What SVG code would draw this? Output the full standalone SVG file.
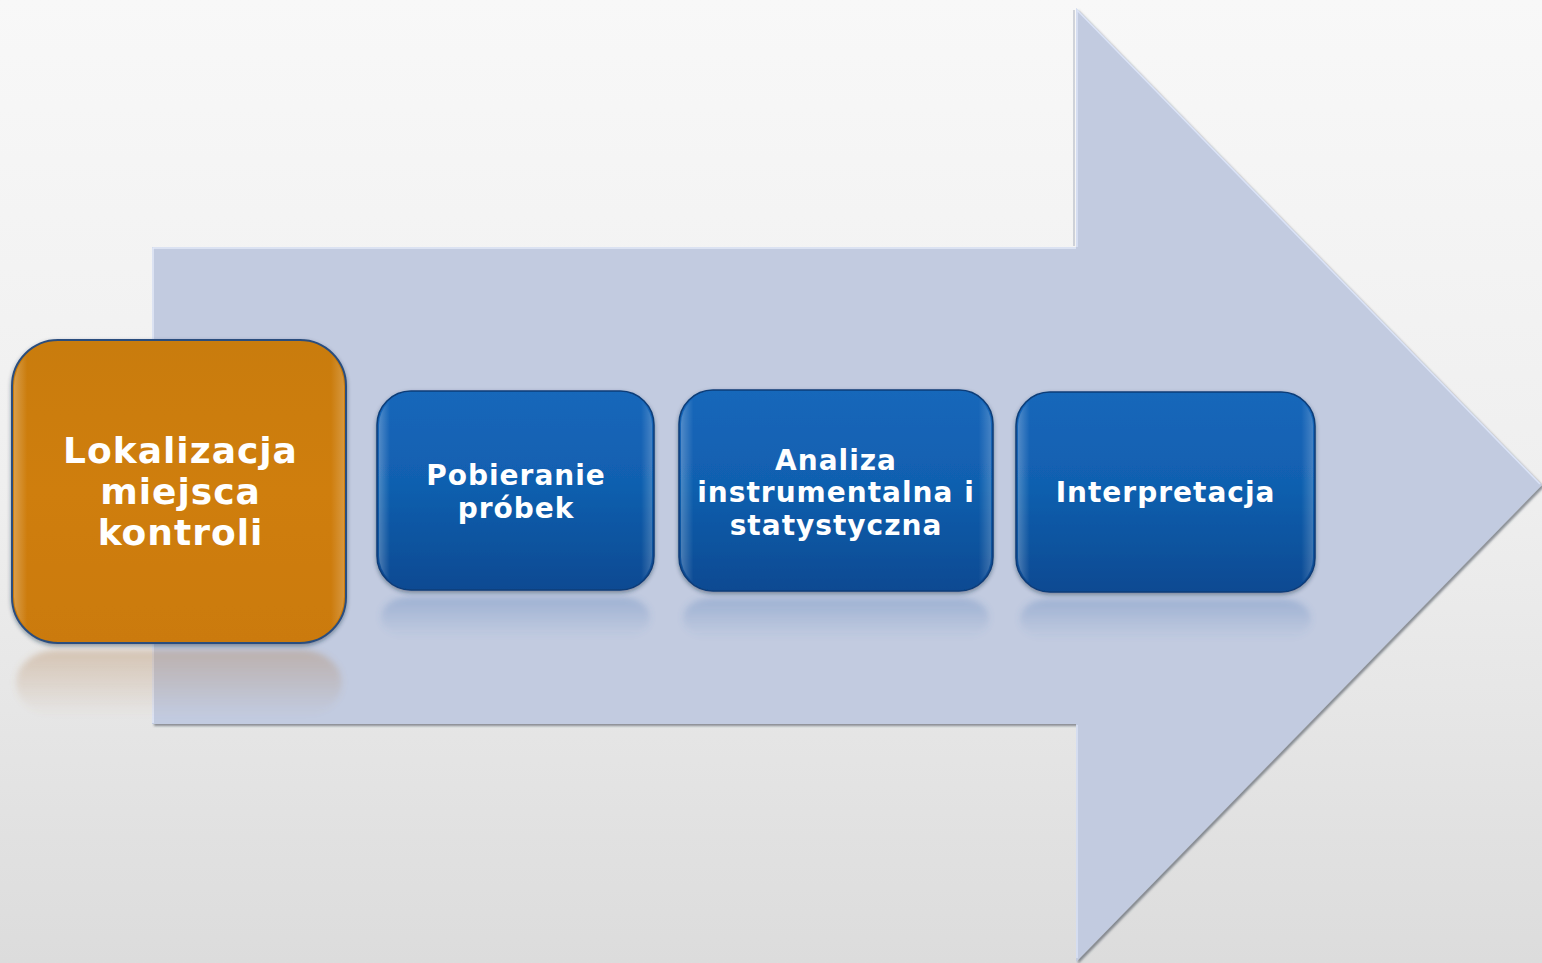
<svg xmlns="http://www.w3.org/2000/svg" width="1542" height="963" viewBox="0 0 1542 963">
<defs>
<linearGradient id="bg" x1="0" y1="0" x2="0" y2="1">
<stop offset="0" stop-color="#f8f8f8"/>
<stop offset="0.5" stop-color="#efefef"/>
<stop offset="1" stop-color="#dcdcdc"/>
</linearGradient>
<linearGradient id="orange" x1="0" y1="0" x2="0" y2="1">
<stop offset="0" stop-color="#c97c0c"/>
<stop offset="0.5" stop-color="#cf7e07"/>
<stop offset="1" stop-color="#cb7a08"/>
</linearGradient>
<linearGradient id="blue" x1="0" y1="0" x2="0" y2="1">
<stop offset="0" stop-color="#1667ba"/>
<stop offset="0.45" stop-color="#1160b0"/>
<stop offset="1" stop-color="#074a92"/>
</linearGradient>
<linearGradient id="bevelH" x1="0" y1="0" x2="1" y2="0">
<stop offset="0" stop-color="#ffffff" stop-opacity="0.25"/>
<stop offset="0.04" stop-color="#ffffff" stop-opacity="0"/>
<stop offset="0.96" stop-color="#ffffff" stop-opacity="0"/>
<stop offset="1" stop-color="#ffffff" stop-opacity="0.2"/>
</linearGradient>
<linearGradient id="reflO" x1="0" y1="0" x2="0" y2="1">
<stop offset="0" stop-color="#b08050" stop-opacity="0.35"/>
<stop offset="1" stop-color="#b08050" stop-opacity="0"/>
</linearGradient>
<linearGradient id="reflB" x1="0" y1="0" x2="0" y2="1">
<stop offset="0" stop-color="#4a76b4" stop-opacity="0.3"/>
<stop offset="1" stop-color="#4a76b4" stop-opacity="0"/>
</linearGradient>
<filter id="ashadow" x="-5%" y="-5%" width="110%" height="110%">
<feDropShadow dx="2" dy="2" stdDeviation="1.2" flood-color="#3a4250" flood-opacity="0.55"/>
</filter>
<filter id="bshadow" x="-5%" y="-5%" width="110%" height="115%">
<feDropShadow dx="0" dy="2" stdDeviation="2" flood-color="#1a2a40" flood-opacity="0.45"/>
</filter>
<filter id="soft" x="-10%" y="-20%" width="120%" height="140%">
<feGaussianBlur stdDeviation="3"/>
</filter>
</defs>
<style>
.lbl{font-family:"DejaVu Sans","Verdana",sans-serif;font-weight:bold;fill:#ffffff;text-anchor:middle}
.big{font-size:36px;letter-spacing:1px}
.small{font-size:28px;letter-spacing:1px}
.bevel{fill:url(#bevelH)}
</style>
<rect x="0" y="0" width="1542" height="963" fill="url(#bg)"/>
<g id="arrow">
<polygon points="152,247 1076,247 1076,8 1542,485 1076,962 1076,724 152,724" fill="#c2cbe0" filter="url(#ashadow)"/>
<line x1="1074" y1="10" x2="1074" y2="246" stroke="#9aa2b2" stroke-width="1.2" opacity="0.7"/>
<polyline points="153,723 153,248 1076,248" fill="none" stroke="#e4eaf8" stroke-width="1.5"/>
<polyline points="1077,247 1077,10 1540,484" fill="none" stroke="#dbe3f6" stroke-width="1.5"/>
<line x1="1077" y1="725" x2="1077" y2="958" stroke="#dbe3f6" stroke-width="1.5"/>
</g>
<g id="reflections" filter="url(#soft)">
<rect x="16" y="650" width="326" height="66" rx="40" fill="url(#reflO)"/>
<rect x="381" y="597" width="269" height="40" rx="28" fill="url(#reflB)"/>
<rect x="683" y="598" width="306" height="40" rx="28" fill="url(#reflB)"/>
<rect x="1020" y="599" width="291" height="40" rx="28" fill="url(#reflB)"/>
</g>
<g id="connectors"></g>
<g id="node1">
<rect x="12" y="340" width="334" height="303" rx="46" fill="url(#orange)" stroke="#2a4d7e" stroke-width="2" filter="url(#bshadow)"/>
<rect x="14" y="342" width="330" height="299" rx="44" class="bevel"/>
<text class="lbl big" x="180.5" y="463">Lokalizacja</text>
<text class="lbl big" x="180.5" y="504">miejsca</text>
<text class="lbl big" x="180.5" y="545">kontroli</text>
</g>
<g id="node2">
<rect x="377" y="391" width="277" height="199" rx="34" fill="url(#blue)" stroke="#0b3c78" stroke-width="1.5" filter="url(#bshadow)"/>
<rect x="379" y="393" width="273" height="195" rx="32" class="bevel"/>
<text class="lbl small" x="516" y="485">Pobieranie</text>
<text class="lbl small" x="516" y="518">próbek</text>
</g>
<g id="node3">
<rect x="679" y="390" width="314" height="201" rx="34" fill="url(#blue)" stroke="#0b3c78" stroke-width="1.5" filter="url(#bshadow)"/>
<rect x="681" y="392" width="310" height="197" rx="32" class="bevel"/>
<text class="lbl small" x="836" y="470">Analiza</text>
<text class="lbl small" x="836" y="502">instrumentalna i</text>
<text class="lbl small" x="836" y="535">statystyczna</text>
</g>
<g id="node4">
<rect x="1016" y="392" width="299" height="200" rx="34" fill="url(#blue)" stroke="#0b3c78" stroke-width="1.5" filter="url(#bshadow)"/>
<rect x="1018" y="394" width="295" height="196" rx="32" class="bevel"/>
<text class="lbl small" x="1165.5" y="502">Interpretacja</text>
</g>
</svg>
